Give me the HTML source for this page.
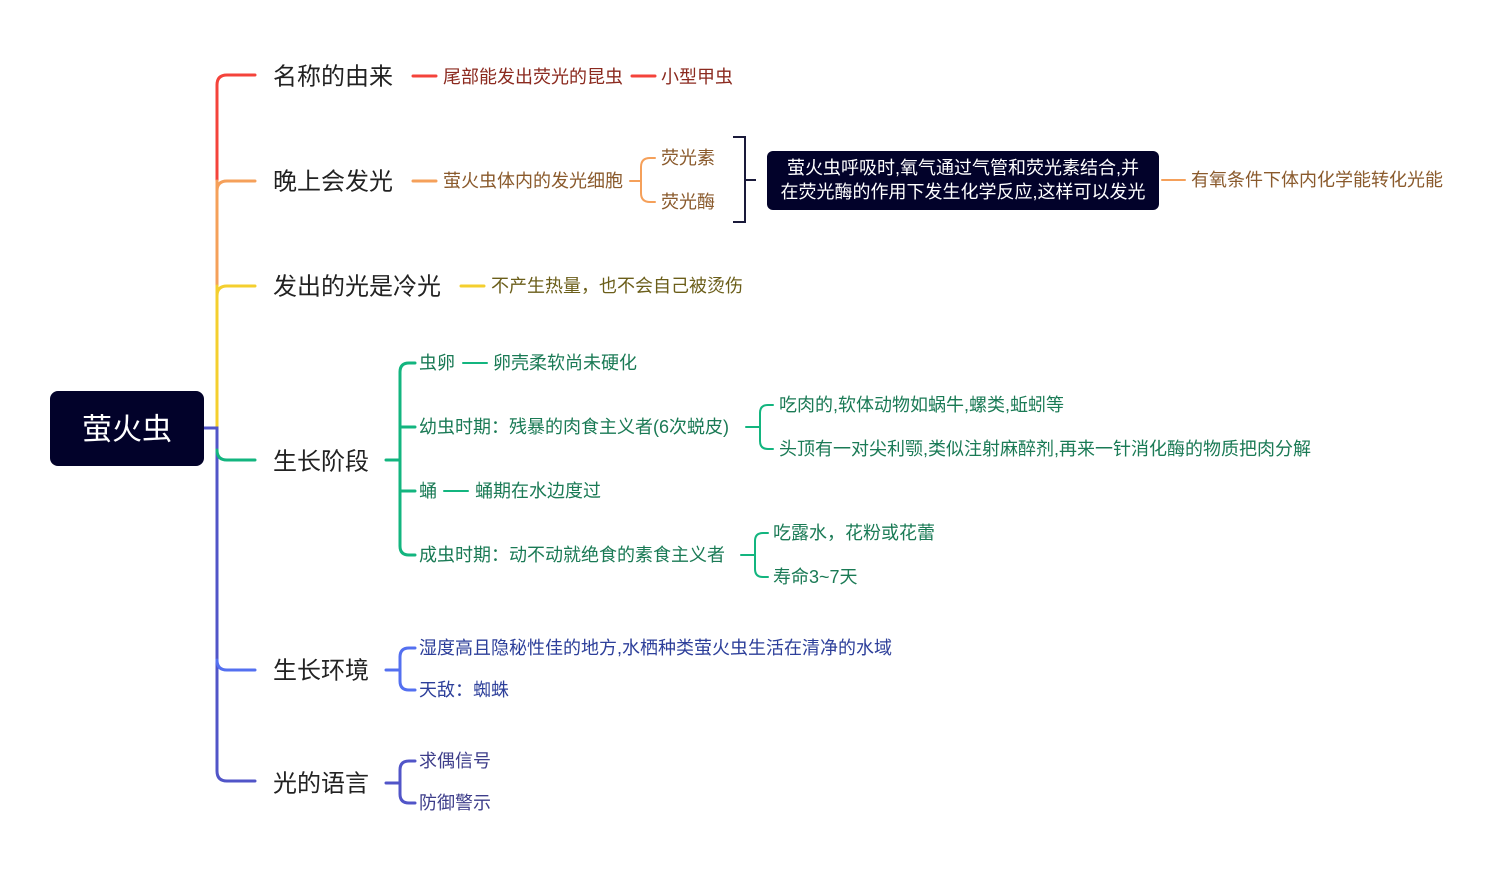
<!DOCTYPE html>
<html><head><meta charset="utf-8"><style>
html,body{margin:0;padding:0;background:#fff;}
svg{display:block;}
text{font-family:"Liberation Sans","Noto Sans CJK SC",sans-serif;dominant-baseline:central;}
</style></head><body>
<svg width="1500" height="872" viewBox="0 0 1500 872" xmlns="http://www.w3.org/2000/svg">
<g fill="none" stroke-width="3" stroke-linecap="round">
<path d="M255 75 H227 Q217 75 217 85 V181" stroke="#f4433b"/>
<path d="M217 181 V286" stroke="#f5a05a"/>
<path d="M255 181 H227 Q217 181 217 191" stroke="#f5a05a"/>
<path d="M217 286 V428" stroke="#f4cf2e"/>
<path d="M255 286 H227 Q217 286 217 296" stroke="#f4cf2e"/>
<path d="M204 428 H217 V771 Q217 781 227 781 H255" stroke="#5155c8"/>
<path d="M217 450 Q217 460 227 460 H255" stroke="#13b57f"/>
<path d="M217 660 Q217 670 227 670 H255" stroke="#5470f0"/>
<path d="M413 76 H436" stroke="#f4433b"/>
<path d="M632 76 H655" stroke="#f4433b"/>
<path d="M413 181 H436" stroke="#f5a05a"/>
<path d="M630 181 H641 M655 158 H650 Q641 158 641 167 V193 Q641 202 650 202 H655" stroke="#f5a05a" stroke-width="2"/>
<path d="M1162 180 H1185" stroke="#f5a05a" stroke-width="2"/>
<path d="M461 286 H484" stroke="#f4cf2e"/>
<path d="M386 460 H400 M415 363 H409 Q400 363 400 372 V546 Q400 555 409 555 H415 M400 427 H415 M400 491 H415" stroke="#13b57f"/>
<path d="M463 363 H487 M444 491 H468" stroke="#13b57f" stroke-width="2"/>
<path d="M746 427 H760 M773 405 H768 Q760 405 760 413 V441 Q760 449 768 449 H773" stroke="#13b57f" stroke-width="2"/>
<path d="M741 555 H755 M768 533 H763 Q755 533 755 541 V569 Q755 577 763 577 H768" stroke="#13b57f" stroke-width="2"/>
<path d="M386 670 H400 M415 648 H409 Q400 648 400 657 V681 Q400 690 409 690 H415" stroke="#5470f0"/>
<path d="M386 783 H400 M415 761 H409 Q400 761 400 770 V794 Q400 803 409 803 H415" stroke="#5155c8"/>
</g>
<path d="M733 137 H745 V222 H733 M745 180 H756" fill="none" stroke="#1a1a3a" stroke-width="2"/>
<rect x="50" y="391" width="154" height="75" rx="8" fill="#02022a"/>
<text x="127" y="430" font-size="30" fill="#fff" text-anchor="middle">萤火虫</text>
<rect x="767" y="151" width="392" height="59" rx="6" fill="#02022a"/>
<text x="963" y="168" font-size="18" fill="#fff" text-anchor="middle">萤火虫呼吸时,氧气通过气管和荧光素结合,并</text>
<text x="963" y="192" font-size="18" fill="#fff" text-anchor="middle">在荧光酶的作用下发生化学反应,这样可以发光</text>
<g font-size="24" fill="#222">
<text x="273" y="77">名称的由来</text>
<text x="273" y="182">晚上会发光</text>
<text x="273" y="287">发出的光是冷光</text>
<text x="273" y="462">生长阶段</text>
<text x="273" y="671">生长环境</text>
<text x="273" y="784">光的语言</text>
</g>
<g font-size="18">
<text x="443" y="77" fill="#8b2a1f">尾部能发出荧光的昆虫</text>
<text x="661" y="77" fill="#8b2a1f">小型甲虫</text>
<text x="443" y="181" fill="#8a5a2c">萤火虫体内的发光细胞</text>
<text x="661" y="158" fill="#8a5a2c">荧光素</text>
<text x="661" y="202" fill="#8a5a2c">荧光酶</text>
<text x="1191" y="180" fill="#8a5a2c">有氧条件下体内化学能转化光能</text>
<text x="491" y="286" fill="#6b5e1a">不产生热量，也不会自己被烫伤</text>
<g fill="#1a7a55">
<text x="419" y="363">虫卵</text>
<text x="493" y="363">卵壳柔软尚未硬化</text>
<text x="419" y="427">幼虫时期：残暴的肉食主义者(6次蜕皮)</text>
<text x="779" y="405">吃肉的,软体动物如蜗牛,螺类,蚯蚓等</text>
<text x="779" y="449">头顶有一对尖利颚,类似注射麻醉剂,再来一针消化酶的物质把肉分解</text>
<text x="419" y="491">蛹</text>
<text x="475" y="491">蛹期在水边度过</text>
<text x="419" y="555">成虫时期：动不动就绝食的素食主义者</text>
<text x="773" y="533">吃露水，花粉或花蕾</text>
<text x="773" y="577">寿命3~7天</text>
</g>
<text x="419" y="648" fill="#2d3f9a">湿度高且隐秘性佳的地方,水栖种类萤火虫生活在清净的水域</text>
<text x="419" y="690" fill="#2d3f9a">天敌：蜘蛛</text>
<text x="419" y="761" fill="#3d3d8a">求偶信号</text>
<text x="419" y="803" fill="#3d3d8a">防御警示</text>
</g>
</svg>
</body></html>
